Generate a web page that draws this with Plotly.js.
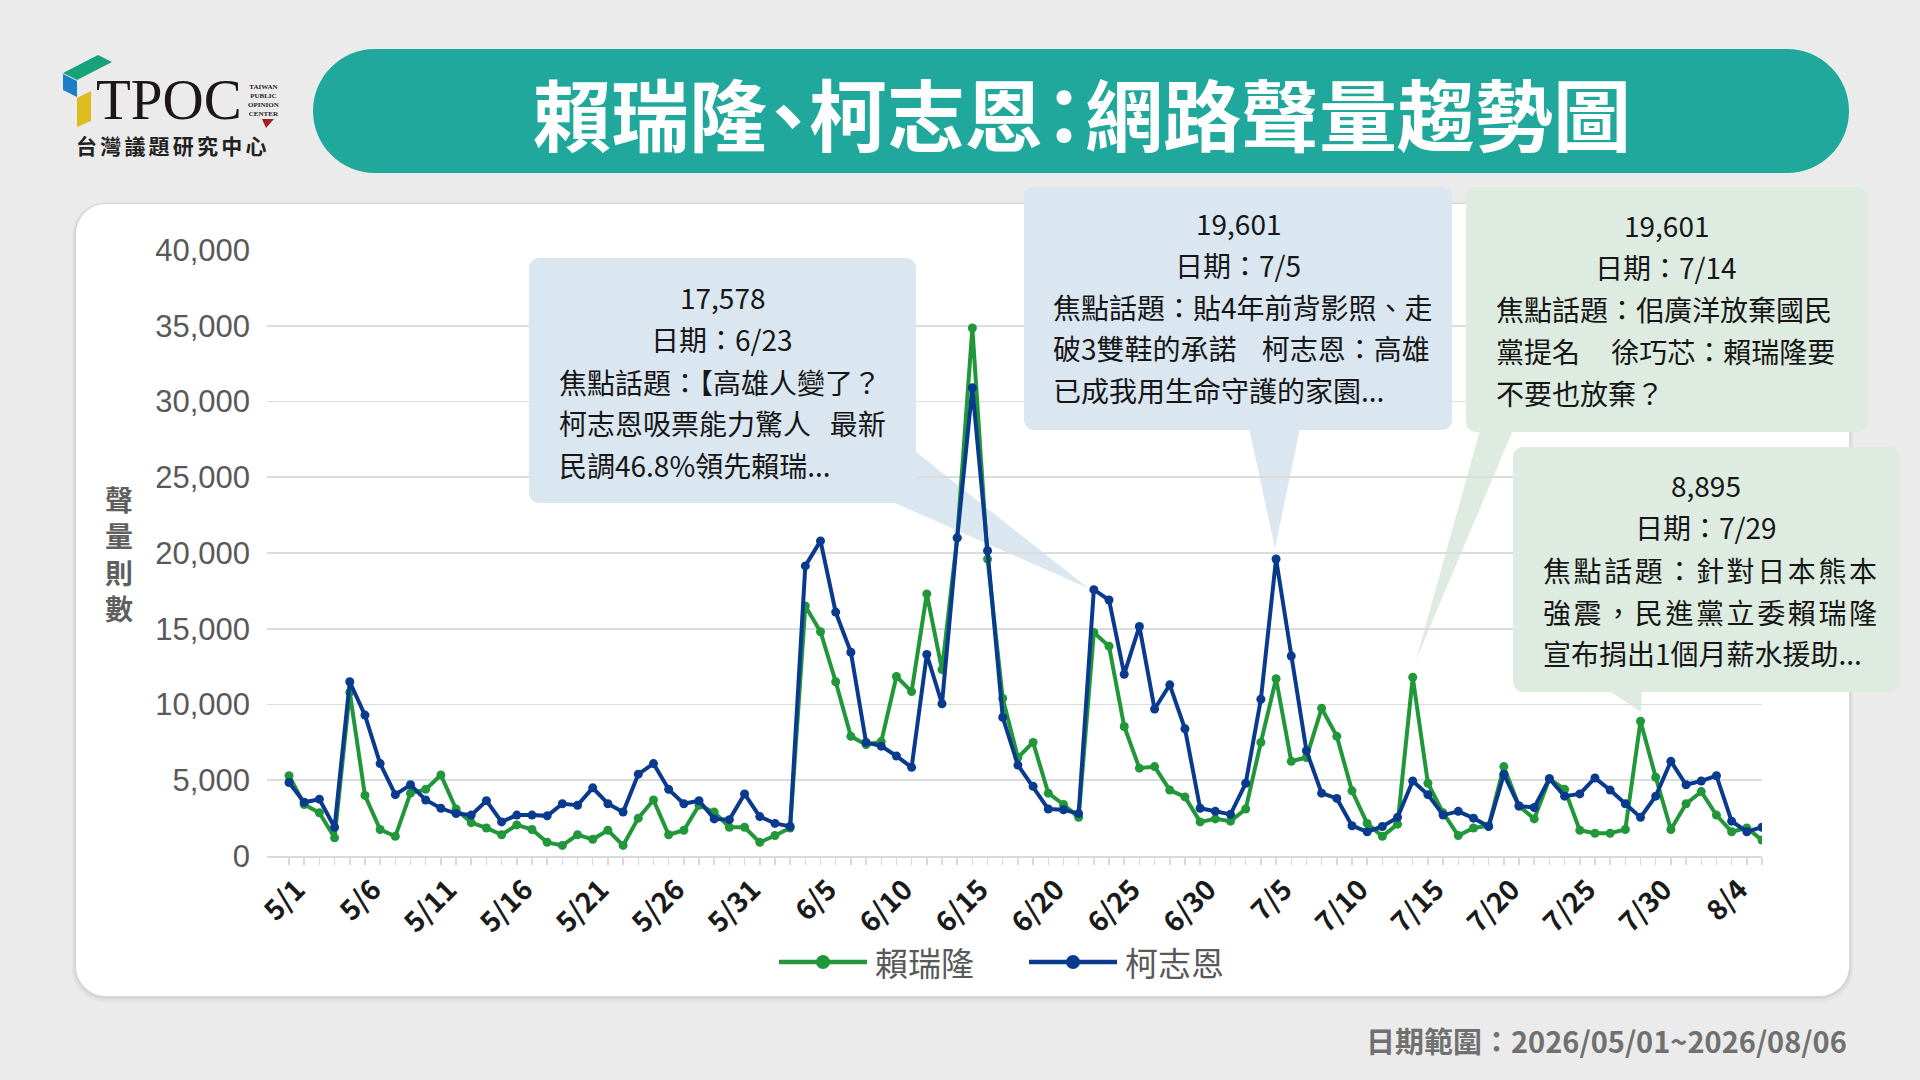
<!DOCTYPE html>
<html>
<head>
<meta charset="utf-8">
<script src="https://cdn.plot.ly/plotly-3.0.1.min.js"></script>
<style>
html,body{margin:0;padding:0;background:#ebebeb;}
#chart{width:1920px;height:1080px;}
</style>
</head>
<body>
<div id="chart"></div>
<script>
// ---------------- data ----------------
const dates = [
 '5/1','5/2','5/3','5/4','5/5','5/6','5/7','5/8','5/9','5/10','5/11','5/12','5/13','5/14','5/15','5/16',
 '5/17','5/18','5/19','5/20','5/21','5/22','5/23','5/24','5/25','5/26','5/27','5/28','5/29','5/30','5/31',
 '6/1','6/2','6/3','6/4','6/5','6/6','6/7','6/8','6/9','6/10','6/11','6/12','6/13','6/14','6/15','6/16',
 '6/17','6/18','6/19','6/20','6/21','6/22','6/23','6/24','6/25','6/26','6/27','6/28','6/29','6/30',
 '7/1','7/2','7/3','7/4','7/5','7/6','7/7','7/8','7/9','7/10','7/11','7/12','7/13','7/14','7/15','7/16',
 '7/17','7/18','7/19','7/20','7/21','7/22','7/23','7/24','7/25','7/26','7/27','7/28','7/29','7/30','7/31',
 '8/1','8/2','8/3','8/4','8/5','8/6'
];
const laiRuilong = [
 5300,3400,2850,1200,10800,4000,1750,1300,4150,4400,5350,3100,2200,1850,1400,2050,
 1750,900,700,1400,1100,1700,700,2500,3700,1400,1700,3350,2900,1900,1900,
 900,1350,1850,16500,14800,11500,7900,7350,7550,11850,10850,17300,12300,21000,34850,19600,
 10400,6500,7500,4150,3400,2550,14750,13850,8550,5800,5900,4350,3900,2250,
 2450,2300,3100,7500,11700,6250,6500,9750,7900,4300,2150,1300,2100,11800,4800,2850,
 1350,1850,2000,5900,3300,2450,5100,4400,1700,1500,1500,1750,8895,5200,1750,
 3450,4250,2700,1600,1850,1050
];
const keZhien = [
 4850,3550,3750,1900,11500,9300,6100,4050,4700,3700,3150,2800,2700,3650,2250,2700,
 2700,2650,3450,3350,4500,3450,2900,5400,6100,4400,3450,3650,2450,2400,4100,
 2600,2150,1950,19150,20800,16100,13450,7500,7250,6600,5850,13300,10050,21000,30900,20150,
 9150,6000,4600,3100,3050,2800,17578,16900,12000,15150,9700,11300,8400,3150,
 2950,2750,4800,10350,19601,13200,6950,4150,3800,2000,1600,1950,2550,4950,4050,2700,
 2950,2500,1950,5400,3300,3200,5100,3950,4100,5150,4350,3450,2550,3950,6250,
 4700,4950,5300,2300,1600,1900
];
const seriesNames = ['賴瑞隆','柯志恩'];
const seriesColors = ['#21973a','#0a3a8e'];
const tickLabels = ['5/1','5/6','5/11','5/16','5/21','5/26','5/31','6/5','6/10','6/15','6/20',
 '6/25','6/30','7/5','7/10','7/15','7/20','7/25','7/30','8/4'];

const chartTitle = ['賴瑞', '隆、', '柯志', '恩：', '網路聲量趨勢圖'];
const yAxisTitle = ['聲','量','則','數'];
const footerText = '日期範圍：2026/05/01~2026/08/06';
const logoName = '台灣議題研究中心';
const logoSmall = ['TAIWAN','PUBLIC','OPINION','CENTER'];

const callout1 = ['17,578','日期：6/23','焦點話題：【高雄人變了？','柯志恩吸票能力驚人\u00a0\u00a0\u00a0最新','民調46.8%領先賴瑞...'];
const callout2 = ['19,601','日期：7/5','焦點話題：貼4年前背影照、走','破3雙鞋的承諾\u00a0\u00a0\u00a0\u00a0柯志恩：高雄','已成我用生命守護的家園...'];
const callout3 = ['19,601','日期：7/14','焦點話題：佀廣洋放棄國民','黨提名\u00a0\u00a0\u00a0\u00a0\u00a0徐巧芯：賴瑞隆要','不要也放棄？'];
const callout4 = ['8,895','日期：7/29','焦點話題：針對日本熊本','強震，民進黨立委賴瑞隆','宣布捐出1個月薪水援助...'];

// ---------------- geometry helpers (pixel -> paper) ----------------
const L = 267, R = 1762, T = 250, B = 856;
const W = R - L, H = B - T;
const px = x => (x - L) / W;
const py = y => (B - y) / H;
const P = (x, y) => px(x).toFixed(5) + ',' + py(y).toFixed(5);
function rrect(x0, y0, x1, y1, r) {
  const k = 0.4477 * r;
  return 'M' + P(x0 + r, y0) + ' L' + P(x1 - r, y0) +
    ' C' + P(x1 - k, y0) + ' ' + P(x1, y0 + k) + ' ' + P(x1, y0 + r) +
    ' L' + P(x1, y1 - r) +
    ' C' + P(x1, y1 - k) + ' ' + P(x1 - k, y1) + ' ' + P(x1 - r, y1) +
    ' L' + P(x0 + r, y1) +
    ' C' + P(x0 + k, y1) + ' ' + P(x0, y1 - k) + ' ' + P(x0, y1 - r) +
    ' L' + P(x0, y0 + r) +
    ' C' + P(x0, y0 + k) + ' ' + P(x0 + k, y0) + ' ' + P(x0 + r, y0) + ' Z';
}
function poly(pts) {
  return 'M' + pts.map(p => P(p[0], p[1])).join(' L') + ' Z';
}
function shape(path, fill, layer) {
  return {type: 'path', xref: 'paper', yref: 'paper', path: path, fillcolor: fill,
          line: {width: 0}, layer: layer || 'below'};
}

const CJK = '"Noto Sans CJK TC", "Noto Sans", sans-serif';
const BLUEBOX = '#dae6f0';
const GREENBOX = '#ddebe0';

const shapes = [
  // card shadow + card
  shape(rrect(72, 202, 1853, 1002, 34), 'rgba(0,0,0,0.035)'),
  shape(rrect(74, 203, 1851, 999, 32), 'rgba(0,0,0,0.05)'),
  shape(rrect(76, 204, 1849, 996, 30), '#ffffff'),
  // title pill
  shape(rrect(313, 49, 1849, 173, 62), '#1fa89b'),
  // logo
  shape(poly([[63, 73], [98, 55], [112, 62], [77, 80]]), '#17a27b'),
  shape(poly([[63, 74], [77, 81], [77, 97], [63, 90]]), '#1b7fc6'),
  shape(poly([[77, 98], [91, 91], [91, 121], [77, 127]]), '#dcbc1f'),
  shape(poly([[262, 119], [274, 119], [266, 128]]), '#a51c24'),
  // callout tails (below traces)
  shape(poly([[895, 503], [916, 452], [1088, 588]]), BLUEBOX),
  shape(poly([[1249, 428], [1300, 428], [1275, 548]]), BLUEBOX),
  shape(poly([[1480, 430], [1513, 430], [1416, 660]]), GREENBOX),
  shape(poly([[1608, 690], [1642, 690], [1641, 712]]), GREENBOX),
  // callout boxes (above)
  shape(rrect(529, 258, 916, 503, 10), BLUEBOX, 'above'),
  shape(rrect(1024, 187, 1452, 430, 10), BLUEBOX, 'above'),
  shape(rrect(1466, 187, 1867, 432, 10), GREENBOX, 'above'),
  shape(rrect(1513, 447, 1899, 692, 10), GREENBOX, 'above')
];

// manual legend (longer line samples as in the reference)
const legendItems = [
  {line: [779, 867], marker: 823, text: 873},
  {line: [1029, 1117], marker: 1073, text: 1123}
];
const legendY = 962;
legendItems.forEach((it, i) => {
  shapes.push({type: 'line', xref: 'paper', yref: 'paper', x0: px(it.line[0]), x1: px(it.line[1]),
    y0: py(legendY), y1: py(legendY), line: {color: seriesColors[i], width: 4.5}, layer: 'above'});
  shapes.push({type: 'circle', xref: 'paper', yref: 'paper', x0: px(it.marker - 7), x1: px(it.marker + 7),
    y0: py(legendY + 7), y1: py(legendY - 7), fillcolor: seriesColors[i], line: {width: 0}, layer: 'above'});
});

function txt(text, x, y, opts) {
  opts = opts || {};
  const a = {
    text: text, xref: 'paper', yref: 'paper', x: px(x), y: py(y),
    xanchor: opts.xanchor || 'center', yanchor: opts.yanchor || 'middle',
    showarrow: false, align: opts.align || 'center',
    font: {family: opts.family || CJK, size: opts.size || 28, color: opts.color || '#161616',
           weight: opts.weight || 'normal'}
  };
  if (opts.height) a.height = opts.height;
  return a;
}
const spaced = (s, ls) => '<span style="letter-spacing:' + ls + 'px">' + s + '</span>';

function calloutAnnotations(lines, cx, left, ys, ls) {
  return lines.map((t, i) => {
    if (i < 2) return txt(t, cx, ys[i], {size: 28, height: 38});
    const s = (ls && ls[i]) ? spaced(t, ls[i]) : t;
    return txt(s, left, ys[i], {size: 28, xanchor: 'left', align: 'left', height: 38});
  });
}

const titleHtml = chartTitle.map((s, i) => (i === 1 || i === 3) ? spaced(s, -18) : s).join('');

const annotations = [
  txt(titleHtml, 1082, 112, {size: 78, color: '#ffffff', weight: 'bold'}),
  txt('TPOC', 169, 99, {size: 57, color: '#1c1616', family: '"Liberation Serif", "DejaVu Serif", serif', height: 46}),
  txt(logoSmall.join('<br>'), 263, 100, {size: 7, color: '#222', family: '"Liberation Serif", serif', weight: 'bold'}),
  txt(spaced(logoName, 3.2), 173, 145, {size: 21, color: '#222', weight: 'bold', height: 24}),
  txt(footerText, 1849, 1040, {size: 29, color: '#707070', xanchor: 'right', weight: 'bold'}),
  txt(yAxisTitle.join('<br>'), 119, 553, {size: 28, color: '#5f5f5f', weight: 'bold'})
].concat(
  seriesNames.map((n, i) => txt(n, legendItems[i].text, legendY, {size: 33, color: '#595959', xanchor: 'left'})),
  calloutAnnotations(callout1, 722, 557, [297, 339, 382, 423, 465]),
  calloutAnnotations(callout2, 1238, 1051, [223, 265, 307, 348, 390]),
  calloutAnnotations(callout3, 1666, 1494, [225, 267, 309, 351, 393]),
  calloutAnnotations(callout4, 1706, 1541, [485, 527, 570, 612, 653], [0, 0, 2.6, 2.6, 0])
);

const traces = seriesNames.map((n, i) => ({
  x: dates, y: i === 0 ? laiRuilong : keZhien, name: n, type: 'scatter', mode: 'lines+markers',
  line: {color: seriesColors[i], width: 4}, marker: {color: seriesColors[i], size: 9}, hoverinfo: 'skip'
}));

const layout = {
  width: 1920, height: 1080,
  margin: {l: L, r: 1920 - R, t: T, b: 1080 - B, pad: 0},
  paper_bgcolor: '#ebebeb', plot_bgcolor: 'rgba(0,0,0,0)',
  showlegend: false,
  xaxis: {
    type: 'category', range: [-1.45, 97.0], fixedrange: true,
    tickmode: 'array', tickvals: dates,
    ticktext: dates.map(d => tickLabels.includes(d) ? d : ''),
    tickangle: -45, ticks: 'outside', ticklen: 7, tickwidth: 1.5, tickcolor: '#d9d9d9',
    ticklabelshift: 8, ticklabelstandoff: -3,
    tickfont: {family: CJK, size: 28, color: '#1a1a1a', weight: 'bold'},
    showgrid: false, showline: true, linecolor: '#d9d9d9', linewidth: 2, zeroline: false
  },
  yaxis: {
    range: [0, 40000], dtick: 5000, tick0: 0, tickformat: ',d', fixedrange: true,
    showgrid: true, gridcolor: '#dcdcdc', gridwidth: 1.6, zeroline: false, showline: false,
    ticks: '', ticklabelstandoff: 16,
    tickfont: {family: '"Liberation Sans", Arial, sans-serif', size: 31, color: '#595959'}
  },
  shapes: shapes,
  annotations: annotations
};

Plotly.newPlot('chart', traces, layout, {staticPlot: true, displayModeBar: false});
</script>
</body>
</html>
